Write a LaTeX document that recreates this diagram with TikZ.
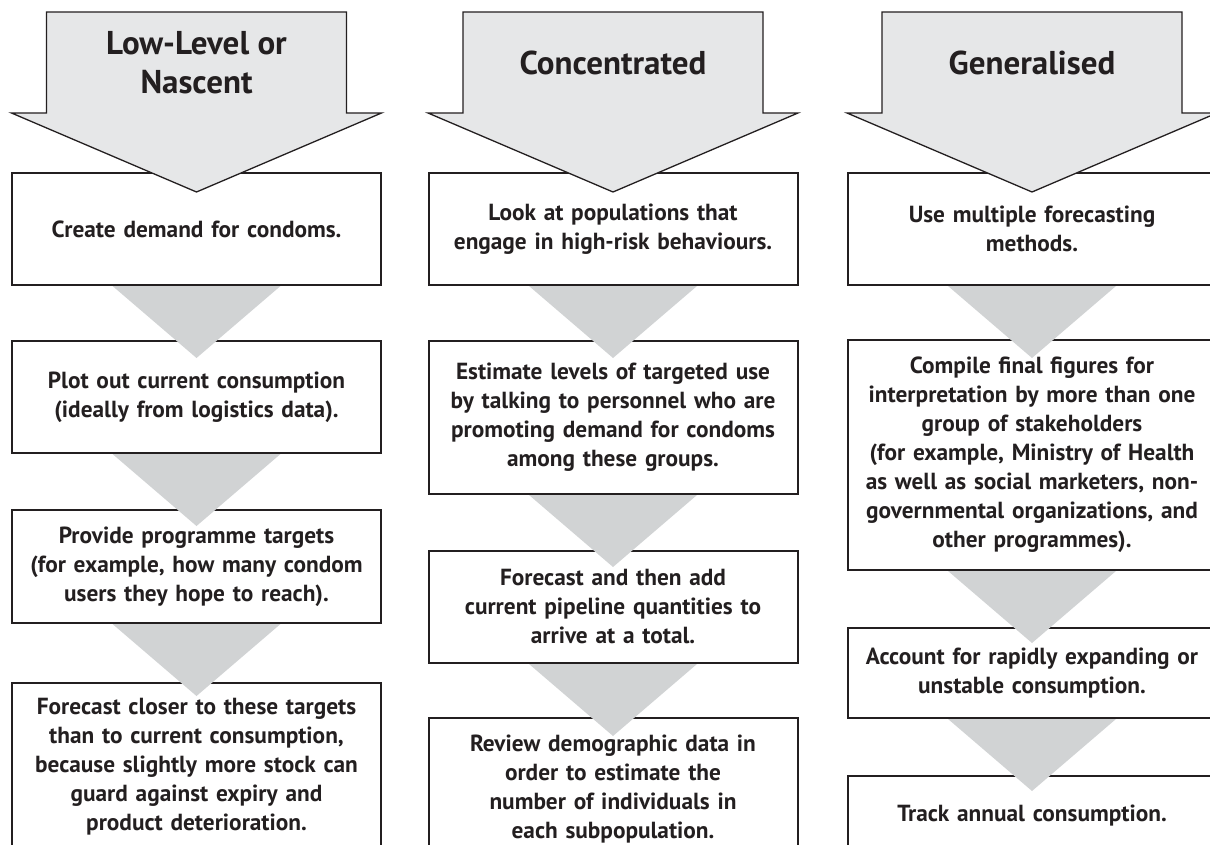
\documentclass[tikz,border=0pt]{standalone}
\usepackage{fontspec}
\setmainfont{PT Sans}
\usetikzlibrary{calc}

\definecolor{ink}{HTML}{231F20}
\definecolor{headfill}{HTML}{E6E7E8}
\definecolor{stepfill}{HTML}{D1D3D4}

\tikzset{
  stepbox/.style={draw=ink, line width=2pt, fill=white, anchor=north,
    minimum width=369pt, text width=366pt, align=center, inner sep=0pt,
    text=ink, font=\bfseries\fontsize{23.3}{29}\selectfont},
  flowtri/.style={fill=stepfill, draw=none},
  headarrow/.style={fill=headfill, draw=ink, line width=1.3pt, line join=miter},
  headtext/.style={text=ink, align=center, inner sep=0pt,
    font=\bfseries\fontsize{33}{39}\selectfont},
}

\begin{document}
\begin{tikzpicture}[x=1pt, y=-1pt]
\useasboundingbox (0,0) rectangle (1210,845);

% ---- column 1: low-level or nascent epidemic ----
\node[stepbox, minimum height=112pt] (a1) at (196.5,172) {Create demand for condoms.};
\node[stepbox, minimum height=112pt] (a2) at (196.5,340) {Plot out current consumption\\(ideally from logistics data).};
\node[stepbox, minimum height=113pt] (a3) at (196.5,509) {Provide programme targets\\(for example, how many condom\\users they hope to reach).};
\node[stepbox, minimum height=168pt] (a4) at (196.5,682) {Forecast closer to these targets\\than to current consumption,\\because slightly more stock can\\guard against expiry and\\product deterioration.};

% ---- column 2: concentrated epidemic ----
\node[stepbox, minimum height=112pt] (b1) at (613,172) {Look at populations that\\engage in high-risk behaviours.};
\node[stepbox, minimum height=153pt] (b2) at (613,340) {Estimate levels of targeted use\\by talking to personnel who are\\promoting demand for condoms\\among these groups.};
\node[stepbox, minimum height=112pt] (b3) at (613,550) {Forecast and then add\\current pipeline quantities to\\arrive at a total.};
\node[stepbox, minimum height=143pt] (b4) at (613,717) {Review demographic data in\\order to estimate the\\number of individuals in\\each subpopulation.};

% ---- column 3: generalised epidemic ----
\node[stepbox, minimum height=112pt] (c1) at (1032,172) {Use multiple forecasting\\methods.};
\node[stepbox, minimum height=230pt] (c2) at (1032,339) {Compile final figures for\\interpretation by more than one\\group of stakeholders\\(for example, Ministry of Health\\as well as social marketers, non-\\governmental organizations, and\\other programmes).};
\node[stepbox, minimum height=90pt] (c3) at (1032,627) {Account for rapidly expanding or\\unstable consumption.};
\node[stepbox, minimum height=80pt] (c4) at (1032,775) {Track annual consumption.};

% ---- grey wedges leading from one step to the next ----
\foreach \from/\to in {a1/a2, a2/a3, a3/a4, b1/b2, b2/b3, b3/b4, c1/c2, c2/c3, c3/c4}{
  \fill[flowtri] ($(\from.south)+(-84,0)$) -- ($(\from.south)+(84,0)$)
    -- ($(\from.south)+(0,72)$) -- cycle;
}

% ---- heading arrows ----
\coordinate (h1) at (196.5,12);
\coordinate (h2) at (613,12);
\coordinate (h3) at (1032,12);
\foreach \h in {h1,h2,h3}{
  \begin{scope}[shift={(\h)}]
    \draw[headarrow] (-150,0) -- (150,0) -- (150,101) -- (185,101)
      -- (0,180) -- (-185,101) -- (-150,101) -- cycle;
  \end{scope}
}
\node[headtext] (t1) at (196.5,63) {Low-Level or\\Nascent};
\node[headtext] (t2) at (613,63) {Concentrated};
\node[headtext] (t3) at (1032,63) {Generalised};
\end{tikzpicture}
\end{document}
